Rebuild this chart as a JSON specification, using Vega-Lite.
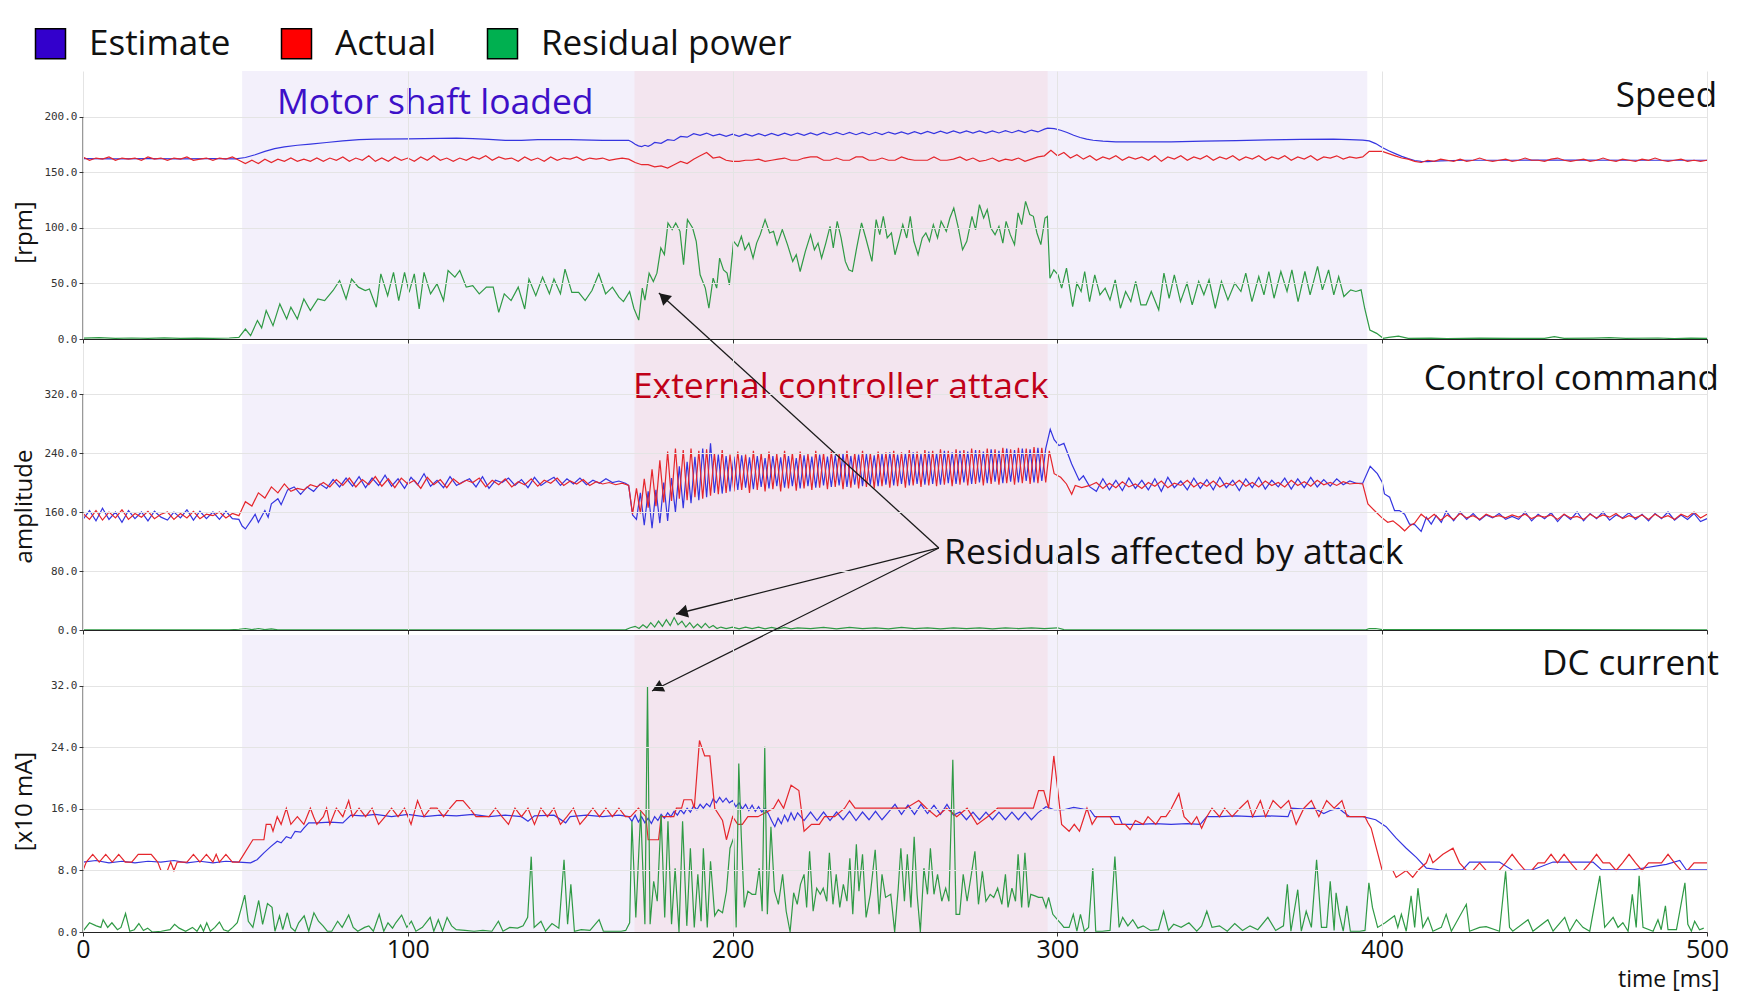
{
"$schema":"https://vega.github.io/schema/vega-lite/v6.json",
"background":"white",
"padding":{"left":12,"top":26,"right":10,"bottom":4},
"config":{"view":{"stroke":null},"font":"Open Sans"},
"bounds":"flush",
"spacing":5,
"datasets":{
"leg":[{"s":"Estimate","t":0,"v":0},{"s":"Actual","t":0,"v":0},{"s":"Residual power","t":0,"v":0}],
"p1e":[{"t":0,"v":162.5},{"t":10,"v":162.3},{"t":20,"v":162.5},{"t":30,"v":162.2},{"t":40,"v":162.4},{"t":47,"v":162.3},{"t":50,"v":163.5},{"t":53,"v":166},{"t":56,"v":169},{"t":59,"v":171.5},{"t":62,"v":173},{"t":66,"v":174.5},{"t":70,"v":175.5},{"t":75,"v":177},{"t":80,"v":178.5},{"t":85,"v":179.5},{"t":90,"v":180},{"t":100,"v":180.3},{"t":110,"v":180.8},{"t":115,"v":181},{"t":120,"v":180.5},{"t":125,"v":179.8},{"t":130,"v":179},{"t":135,"v":179},{"t":140,"v":179.5},{"t":150,"v":179.6},{"t":160,"v":179},{"t":168,"v":179},{"t":169,"v":177.5},{"t":170,"v":175.5},{"t":171,"v":174},{"t":172,"v":173.3},{"t":173,"v":174.5},{"t":174,"v":173.5},{"t":175,"v":175},{"t":176,"v":177},{"t":178,"v":176.3},{"t":180,"v":179.5},{"t":182,"v":178.8},{"t":184,"v":182.5},{"t":186,"v":181.8},{"t":188,"v":185},{"t":190,"v":183.5},{"t":192,"v":185.5},{"t":194,"v":183},{"t":196,"v":184.5},{"t":198,"v":182.5},{"t":200,"v":184.5},{"t":202,"v":182.5},{"t":204,"v":184.8},{"t":206,"v":182.8},{"t":208,"v":185},{"t":210,"v":183},{"t":212,"v":185.2},{"t":214,"v":183.2},{"t":216,"v":185.4},{"t":218,"v":183.4},{"t":220,"v":185.5},{"t":222,"v":183.5},{"t":224,"v":185.7},{"t":226,"v":183.7},{"t":228,"v":186},{"t":230,"v":184},{"t":232,"v":186},{"t":234,"v":184},{"t":236,"v":186},{"t":238,"v":184},{"t":240,"v":186},{"t":242,"v":184},{"t":244,"v":186.2},{"t":246,"v":184.2},{"t":248,"v":186.4},{"t":250,"v":184.5},{"t":252,"v":186.6},{"t":254,"v":184.6},{"t":256,"v":186.8},{"t":258,"v":184.8},{"t":260,"v":187},{"t":262,"v":185},{"t":264,"v":187.2},{"t":266,"v":185.2},{"t":268,"v":187.4},{"t":270,"v":185.5},{"t":272,"v":187.5},{"t":274,"v":185.5},{"t":276,"v":187.5},{"t":278,"v":185.5},{"t":280,"v":187.5},{"t":282,"v":185.6},{"t":284,"v":187.7},{"t":286,"v":185.8},{"t":288,"v":187.9},{"t":290,"v":186},{"t":292,"v":188.2},{"t":294,"v":186.5},{"t":296,"v":189},{"t":297,"v":190},{"t":299,"v":189.5},{"t":301,"v":188},{"t":303,"v":186},{"t":305,"v":183.5},{"t":307,"v":181.5},{"t":309,"v":180},{"t":311,"v":179},{"t":314,"v":178.2},{"t":318,"v":177.6},{"t":325,"v":177.5},{"t":335,"v":177.5},{"t":345,"v":178.2},{"t":355,"v":178.6},{"t":365,"v":179.3},{"t":375,"v":179.8},{"t":385,"v":180},{"t":390,"v":179.6},{"t":394,"v":179.2},{"t":396,"v":178.5},{"t":398,"v":176},{"t":400,"v":172.5},{"t":402,"v":169.5},{"t":404,"v":167},{"t":406,"v":164.5},{"t":408,"v":162.5},{"t":410,"v":160.8},{"t":412,"v":160},{"t":414,"v":159.8},{"t":418,"v":160.5},{"t":425,"v":161},{"t":440,"v":161},{"t":460,"v":161.2},{"t":480,"v":161},{"t":500,"v":161}],
"p1a":[{"t":0,"v":164},{"t":2,"v":161},{"t":4,"v":163},{"t":6,"v":162},{"t":8,"v":164},{"t":10,"v":161},{"t":12,"v":163},{"t":14,"v":162},{"t":16,"v":163},{"t":18,"v":161},{"t":20,"v":164},{"t":22,"v":162},{"t":24,"v":163},{"t":26,"v":161},{"t":28,"v":163},{"t":30,"v":162},{"t":32,"v":164},{"t":34,"v":161},{"t":36,"v":162},{"t":38,"v":163},{"t":40,"v":161},{"t":42,"v":163},{"t":44,"v":162},{"t":46,"v":164},{"t":48,"v":161},{"t":50,"v":158},{"t":52,"v":161},{"t":54,"v":158},{"t":56,"v":162},{"t":58,"v":159},{"t":60,"v":162},{"t":62,"v":160},{"t":64,"v":163},{"t":66,"v":160},{"t":68,"v":162},{"t":70,"v":160},{"t":72,"v":163},{"t":74,"v":160},{"t":76,"v":163},{"t":78,"v":161},{"t":80,"v":164},{"t":82,"v":160},{"t":84,"v":163},{"t":86,"v":161},{"t":88,"v":165},{"t":90,"v":160},{"t":92,"v":163},{"t":94,"v":160},{"t":96,"v":164},{"t":98,"v":161},{"t":100,"v":163},{"t":102,"v":160},{"t":104,"v":164},{"t":106,"v":161},{"t":108,"v":165},{"t":110,"v":161},{"t":112,"v":163},{"t":114,"v":160},{"t":116,"v":163},{"t":118,"v":161},{"t":120,"v":164},{"t":122,"v":162},{"t":124,"v":165},{"t":126,"v":161},{"t":128,"v":164},{"t":130,"v":162},{"t":132,"v":163},{"t":134,"v":160},{"t":136,"v":164},{"t":138,"v":161},{"t":140,"v":163},{"t":142,"v":160},{"t":144,"v":164},{"t":146,"v":161},{"t":148,"v":163},{"t":150,"v":162},{"t":152,"v":164},{"t":154,"v":161},{"t":156,"v":163},{"t":158,"v":162},{"t":160,"v":163},{"t":162,"v":161},{"t":164,"v":162},{"t":166,"v":163},{"t":168,"v":162},{"t":170,"v":159},{"t":172,"v":157},{"t":174,"v":157},{"t":176,"v":155},{"t":178,"v":156},{"t":180,"v":154},{"t":182,"v":157},{"t":184,"v":160},{"t":186,"v":158},{"t":188,"v":162},{"t":190,"v":165},{"t":192,"v":168},{"t":194,"v":163},{"t":196,"v":164},{"t":198,"v":161},{"t":200,"v":160},{"t":202,"v":160},{"t":204,"v":161},{"t":206,"v":161},{"t":208,"v":162},{"t":210,"v":160},{"t":212,"v":161},{"t":214,"v":162},{"t":216,"v":163},{"t":218,"v":161},{"t":220,"v":161},{"t":222,"v":163},{"t":224,"v":164},{"t":226,"v":164},{"t":228,"v":161},{"t":230,"v":161},{"t":232,"v":163},{"t":234,"v":161},{"t":236,"v":161},{"t":238,"v":164},{"t":240,"v":164},{"t":242,"v":161},{"t":244,"v":161},{"t":246,"v":163},{"t":248,"v":161},{"t":250,"v":161},{"t":252,"v":164},{"t":254,"v":162},{"t":256,"v":161},{"t":258,"v":161},{"t":260,"v":161},{"t":262,"v":164},{"t":264,"v":161},{"t":266,"v":161},{"t":268,"v":162},{"t":270,"v":164},{"t":272,"v":161},{"t":274,"v":163},{"t":276,"v":160},{"t":278,"v":161},{"t":280,"v":163},{"t":282,"v":160},{"t":284,"v":162},{"t":286,"v":161},{"t":288,"v":163},{"t":290,"v":160},{"t":292,"v":162},{"t":294,"v":164},{"t":296,"v":165},{"t":298,"v":170},{"t":300,"v":165},{"t":302,"v":168},{"t":304,"v":163},{"t":306,"v":166},{"t":308,"v":162},{"t":310,"v":165},{"t":312,"v":161},{"t":314,"v":164},{"t":316,"v":162},{"t":318,"v":165},{"t":320,"v":161},{"t":322,"v":164},{"t":324,"v":162},{"t":326,"v":164},{"t":328,"v":161},{"t":330,"v":165},{"t":332,"v":160},{"t":334,"v":164},{"t":336,"v":162},{"t":338,"v":165},{"t":340,"v":161},{"t":342,"v":164},{"t":344,"v":162},{"t":346,"v":165},{"t":348,"v":161},{"t":350,"v":164},{"t":352,"v":162},{"t":354,"v":165},{"t":356,"v":161},{"t":358,"v":164},{"t":360,"v":162},{"t":362,"v":165},{"t":364,"v":161},{"t":366,"v":164},{"t":368,"v":162},{"t":370,"v":165},{"t":372,"v":161},{"t":374,"v":164},{"t":376,"v":162},{"t":378,"v":165},{"t":380,"v":161},{"t":382,"v":164},{"t":384,"v":163},{"t":386,"v":165},{"t":388,"v":162},{"t":390,"v":164},{"t":392,"v":163},{"t":394,"v":164},{"t":396,"v":169},{"t":398,"v":169},{"t":400,"v":169},{"t":402,"v":167},{"t":404,"v":165},{"t":406,"v":163},{"t":408,"v":162},{"t":410,"v":160},{"t":412,"v":159},{"t":414,"v":161},{"t":416,"v":160},{"t":418,"v":162},{"t":420,"v":161},{"t":422,"v":160},{"t":424,"v":162},{"t":426,"v":160},{"t":428,"v":161},{"t":430,"v":163},{"t":432,"v":161},{"t":434,"v":160},{"t":436,"v":161},{"t":438,"v":162},{"t":440,"v":160},{"t":442,"v":161},{"t":444,"v":163},{"t":446,"v":161},{"t":448,"v":161},{"t":450,"v":160},{"t":452,"v":162},{"t":454,"v":163},{"t":456,"v":161},{"t":458,"v":160},{"t":460,"v":161},{"t":462,"v":162},{"t":464,"v":160},{"t":466,"v":161},{"t":468,"v":163},{"t":470,"v":161},{"t":472,"v":160},{"t":474,"v":162},{"t":476,"v":161},{"t":478,"v":160},{"t":480,"v":162},{"t":482,"v":161},{"t":484,"v":163},{"t":486,"v":161},{"t":488,"v":160},{"t":490,"v":161},{"t":492,"v":162},{"t":494,"v":160},{"t":496,"v":161},{"t":498,"v":160},{"t":500,"v":161}],
"p1r":[{"t":0,"v":0.8},{"t":5,"v":1.2},{"t":10,"v":0.5},{"t":15,"v":0.9},{"t":20,"v":0.6},{"t":25,"v":1},{"t":30,"v":0.5},{"t":35,"v":0.8},{"t":40,"v":0.6},{"t":45,"v":0.9},{"t":48,"v":1.5},{"t":50,"v":9},{"t":51.6,"v":3},{"t":53.7,"v":16.6},{"t":55,"v":10},{"t":56.4,"v":25.6},{"t":58.5,"v":12},{"t":60.6,"v":31.6},{"t":62.7,"v":18},{"t":64,"v":28.6},{"t":66,"v":18},{"t":68,"v":36},{"t":70,"v":25.6},{"t":72.3,"v":36},{"t":74.4,"v":34.6},{"t":77,"v":43.7},{"t":79,"v":52.7},{"t":81,"v":36},{"t":82.7,"v":54},{"t":84.8,"v":46.7},{"t":86.9,"v":43.7},{"t":88.2,"v":45},{"t":90.3,"v":28.6},{"t":91.7,"v":58.7},{"t":93.8,"v":39},{"t":95.6,"v":60},{"t":97.2,"v":34.6},{"t":99,"v":60},{"t":100.4,"v":42},{"t":102,"v":58.7},{"t":103.5,"v":27},{"t":105,"v":60},{"t":107,"v":40.7},{"t":109,"v":49.7},{"t":111,"v":34.6},{"t":112.4,"v":61.7},{"t":114.5,"v":55.7},{"t":116,"v":61.7},{"t":118,"v":46.7},{"t":120,"v":48},{"t":122,"v":40.7},{"t":124.2,"v":46.7},{"t":126.3,"v":46.7},{"t":128,"v":24},{"t":129.7,"v":40.7},{"t":131.8,"v":34.6},{"t":134,"v":46.7},{"t":136,"v":27},{"t":137.3,"v":54},{"t":139.4,"v":39},{"t":141.5,"v":55.7},{"t":143.6,"v":40.7},{"t":145,"v":54},{"t":147,"v":40.7},{"t":148.4,"v":63},{"t":150.5,"v":42},{"t":152.6,"v":42},{"t":154.6,"v":34.6},{"t":156.7,"v":43.7},{"t":158.8,"v":58.7},{"t":160.9,"v":40.7},{"t":163,"v":46.7},{"t":165,"v":37.7},{"t":166.4,"v":33.7},{"t":168.3,"v":42.8},{"t":169.6,"v":27.7},{"t":171.1,"v":17},{"t":172.2,"v":45.8},{"t":173,"v":35},{"t":174.3,"v":59.3},{"t":175.6,"v":51.8},{"t":176.7,"v":59.3},{"t":177.9,"v":82},{"t":179,"v":76},{"t":180.1,"v":104.5},{"t":181.4,"v":98.5},{"t":182.5,"v":104.5},{"t":183.8,"v":97},{"t":184.9,"v":66.9},{"t":186.1,"v":107.5},{"t":187.7,"v":100},{"t":188.8,"v":88},{"t":190,"v":57.8},{"t":191.6,"v":45.8},{"t":192.7,"v":27.7},{"t":194,"v":54.8},{"t":195.1,"v":45.8},{"t":196,"v":72.9},{"t":197.2,"v":62.3},{"t":198.3,"v":59.3},{"t":199,"v":48.8},{"t":200.3,"v":88},{"t":201.6,"v":83.4},{"t":202.7,"v":92.5},{"t":203.8,"v":80.4},{"t":205,"v":86.4},{"t":206.3,"v":72.9},{"t":207.4,"v":86.4},{"t":208.5,"v":94},{"t":210,"v":107.5},{"t":211.4,"v":95.5},{"t":212.6,"v":97},{"t":213.7,"v":85},{"t":215.3,"v":98.5},{"t":216.9,"v":85},{"t":218.5,"v":69.9},{"t":219.6,"v":75.9},{"t":220.8,"v":60.8},{"t":222.4,"v":78.9},{"t":224,"v":94},{"t":225.2,"v":80.4},{"t":226.3,"v":86.4},{"t":227.4,"v":72.9},{"t":228.7,"v":86.4},{"t":230,"v":101.5},{"t":231,"v":82},{"t":232.2,"v":106},{"t":233.4,"v":91},{"t":234.7,"v":69.9},{"t":235.8,"v":62.3},{"t":236.9,"v":60.8},{"t":238.2,"v":82},{"t":239.7,"v":104.5},{"t":241,"v":91},{"t":242.9,"v":69.9},{"t":244.2,"v":107.5},{"t":245.3,"v":94},{"t":246.4,"v":110.5},{"t":247.6,"v":91},{"t":248.9,"v":95.5},{"t":250,"v":75.9},{"t":251.1,"v":88},{"t":252.4,"v":103},{"t":253.6,"v":91},{"t":254.7,"v":110.5},{"t":255.8,"v":88},{"t":257.1,"v":75.9},{"t":258.4,"v":91},{"t":259.5,"v":95.5},{"t":260.6,"v":88},{"t":261.8,"v":103},{"t":263.1,"v":91},{"t":264.2,"v":106},{"t":265.8,"v":97},{"t":266.9,"v":109},{"t":268.1,"v":118},{"t":269.4,"v":101.5},{"t":270.8,"v":80.4},{"t":272.1,"v":88},{"t":273.7,"v":110.5},{"t":274.8,"v":98.5},{"t":276,"v":121},{"t":277.3,"v":109},{"t":278.4,"v":116.6},{"t":279.5,"v":100},{"t":280.8,"v":94},{"t":282,"v":101.5},{"t":283.2,"v":86.4},{"t":284.2,"v":106},{"t":285.5,"v":94},{"t":286.8,"v":85},{"t":287.9,"v":113.6},{"t":289,"v":103},{"t":290.2,"v":124},{"t":291.5,"v":112},{"t":292.6,"v":110.5},{"t":293.7,"v":95.5},{"t":294.9,"v":85},{"t":296.2,"v":109},{"t":296.9,"v":110.5},{"t":297.7,"v":54.8},{"t":298.9,"v":62.3},{"t":300.2,"v":57.8},{"t":301.3,"v":45.8},{"t":302.8,"v":63.9},{"t":304.7,"v":29.2},{"t":306,"v":50.3},{"t":307.3,"v":42.8},{"t":308.4,"v":60.8},{"t":309.9,"v":33.7},{"t":311.5,"v":57.8},{"t":313.1,"v":39.8},{"t":314.7,"v":45.8},{"t":316.2,"v":35.2},{"t":317.8,"v":53.3},{"t":319.4,"v":27.7},{"t":321,"v":42.8},{"t":322.6,"v":33.7},{"t":324.1,"v":51.8},{"t":325.7,"v":30.7},{"t":327.3,"v":30.7},{"t":328.9,"v":42.8},{"t":331.2,"v":26.2},{"t":332.8,"v":59.3},{"t":334.4,"v":36.7},{"t":336,"v":57.8},{"t":337.9,"v":33.7},{"t":339.9,"v":50.3},{"t":341.5,"v":30.7},{"t":343.5,"v":51.8},{"t":345.1,"v":39.8},{"t":346.7,"v":53.3},{"t":348.6,"v":27.7},{"t":350.5,"v":51.8},{"t":352.5,"v":35.2},{"t":354.6,"v":50.3},{"t":356.5,"v":42.8},{"t":358,"v":59.3},{"t":359.9,"v":33.7},{"t":362,"v":56.3},{"t":363.6,"v":39.8},{"t":365.1,"v":60.8},{"t":366.7,"v":36.7},{"t":368.8,"v":60.8},{"t":370.7,"v":42.8},{"t":372.2,"v":62.3},{"t":374.1,"v":33.7},{"t":376.2,"v":60.8},{"t":377.8,"v":39.8},{"t":380.1,"v":65.4},{"t":381.6,"v":44.3},{"t":383.5,"v":62.3},{"t":385.1,"v":39.8},{"t":386.6,"v":56.3},{"t":388.2,"v":38.3},{"t":390.3,"v":44.3},{"t":391.9,"v":42.8},{"t":393.5,"v":44.3},{"t":394.6,"v":27.7},{"t":396.2,"v":8.1},{"t":398.3,"v":5.1},{"t":400.3,"v":0.6},{"t":402,"v":1.5},{"t":405,"v":2.5},{"t":408,"v":0.5},{"t":415,"v":0.8},{"t":420,"v":0.3},{"t":430,"v":0.8},{"t":440,"v":0.5},{"t":450,"v":0.6},{"t":453,"v":2.2},{"t":456,"v":0.5},{"t":465,"v":0.8},{"t":470,"v":1.2},{"t":475,"v":0.5},{"t":485,"v":0.9},{"t":490,"v":0.4},{"t":495,"v":0.8},{"t":500,"v":0.5}],
"p2a":[{"t":0,"v":158},{"t":2,"v":150},{"t":4,"v":162},{"t":6,"v":149},{"t":8,"v":160},{"t":10,"v":152},{"t":12,"v":163},{"t":14,"v":150},{"t":16,"v":158},{"t":18,"v":153},{"t":20,"v":161},{"t":22,"v":151},{"t":24,"v":157},{"t":26,"v":160},{"t":28,"v":150},{"t":30,"v":158},{"t":32,"v":152},{"t":34,"v":161},{"t":36,"v":151},{"t":38,"v":157},{"t":40,"v":155},{"t":42,"v":160},{"t":44,"v":152},{"t":46,"v":158},{"t":48,"v":155},{"t":50,"v":174},{"t":52,"v":168},{"t":54,"v":186},{"t":56,"v":179},{"t":58,"v":194},{"t":60,"v":186},{"t":62,"v":198},{"t":64,"v":188},{"t":66,"v":192},{"t":68,"v":190},{"t":70,"v":197},{"t":72,"v":194},{"t":74,"v":200},{"t":76,"v":194},{"t":78,"v":204},{"t":80,"v":196},{"t":82,"v":206},{"t":84,"v":194},{"t":86,"v":204},{"t":88,"v":197},{"t":90,"v":208},{"t":92,"v":195},{"t":94,"v":205},{"t":96,"v":193},{"t":98,"v":206},{"t":100,"v":198},{"t":102,"v":203},{"t":104,"v":192},{"t":106,"v":207},{"t":108,"v":197},{"t":110,"v":204},{"t":112,"v":193},{"t":114,"v":205},{"t":116,"v":198},{"t":118,"v":203},{"t":120,"v":200},{"t":122,"v":206},{"t":124,"v":194},{"t":126,"v":203},{"t":128,"v":197},{"t":130,"v":205},{"t":132,"v":194},{"t":134,"v":201},{"t":136,"v":197},{"t":138,"v":205},{"t":140,"v":195},{"t":142,"v":203},{"t":144,"v":199},{"t":146,"v":206},{"t":148,"v":196},{"t":150,"v":202},{"t":152,"v":198},{"t":154,"v":204},{"t":156,"v":196},{"t":158,"v":201},{"t":160,"v":198},{"t":162,"v":200},{"t":164,"v":197},{"t":166,"v":199},{"t":168,"v":196},{"t":169.2,"v":157},{"t":170.4,"v":192},{"t":171.6,"v":158},{"t":172.8,"v":205},{"t":174,"v":166},{"t":175.2,"v":218},{"t":176.4,"v":168},{"t":177.6,"v":230},{"t":178.8,"v":173},{"t":180,"v":242},{"t":181.2,"v":175},{"t":182.4,"v":246},{"t":183.6,"v":178},{"t":184.8,"v":244},{"t":186,"v":176},{"t":187.2,"v":246},{"t":188.4,"v":180},{"t":189.6,"v":243},{"t":190.8,"v":178},{"t":192,"v":245},{"t":193.2,"v":182},{"t":194.4,"v":240},{"t":195.6,"v":184},{"t":196.8,"v":244},{"t":198,"v":186},{"t":199.2,"v":238},{"t":200.4,"v":188},{"t":201.6,"v":242},{"t":202.8,"v":190},{"t":204,"v":238},{"t":205.2,"v":186},{"t":206.4,"v":243},{"t":207.6,"v":190},{"t":208.8,"v":240},{"t":210,"v":188},{"t":211.2,"v":242},{"t":212.4,"v":191},{"t":213.6,"v":239},{"t":214.8,"v":188},{"t":216,"v":243},{"t":217.2,"v":192},{"t":218.4,"v":240},{"t":219.6,"v":189},{"t":220.8,"v":242},{"t":222,"v":192},{"t":223.2,"v":239},{"t":224.4,"v":190},{"t":225.6,"v":243},{"t":226.8,"v":193},{"t":228,"v":240},{"t":229.2,"v":191},{"t":230.4,"v":242},{"t":231.6,"v":194},{"t":232.8,"v":239},{"t":234,"v":191},{"t":235.2,"v":243},{"t":236.4,"v":193},{"t":237.6,"v":240},{"t":238.8,"v":192},{"t":240,"v":243},{"t":241.2,"v":194},{"t":242.4,"v":240},{"t":243.6,"v":192},{"t":244.8,"v":242},{"t":246,"v":195},{"t":247.2,"v":241},{"t":248.4,"v":193},{"t":249.6,"v":243},{"t":250.8,"v":195},{"t":252,"v":241},{"t":253.2,"v":193},{"t":254.4,"v":244},{"t":255.6,"v":196},{"t":256.8,"v":242},{"t":258,"v":194},{"t":259.2,"v":244},{"t":260.4,"v":196},{"t":261.6,"v":243},{"t":262.8,"v":195},{"t":264,"v":245},{"t":265.2,"v":197},{"t":266.4,"v":243},{"t":267.6,"v":195},{"t":268.8,"v":245},{"t":270,"v":197},{"t":271.2,"v":244},{"t":272.4,"v":196},{"t":273.6,"v":246},{"t":274.8,"v":198},{"t":276,"v":244},{"t":277.2,"v":196},{"t":278.4,"v":246},{"t":279.6,"v":198},{"t":280.8,"v":245},{"t":282,"v":197},{"t":283.2,"v":247},{"t":284.4,"v":199},{"t":285.6,"v":245},{"t":286.8,"v":197},{"t":288,"v":247},{"t":289.2,"v":199},{"t":290.4,"v":246},{"t":291.6,"v":198},{"t":292.8,"v":248},{"t":294,"v":199},{"t":295.2,"v":247},{"t":296.4,"v":200},{"t":297.5,"v":243},{"t":299,"v":212},{"t":301,"v":207},{"t":302.8,"v":198},{"t":304.4,"v":184},{"t":305.5,"v":196},{"t":307.5,"v":193},{"t":310,"v":196},{"t":312,"v":200},{"t":314,"v":192},{"t":316,"v":199},{"t":318,"v":193},{"t":320,"v":201},{"t":322,"v":194},{"t":324,"v":198},{"t":326,"v":192},{"t":328,"v":200},{"t":330,"v":195},{"t":332,"v":202},{"t":334,"v":193},{"t":336,"v":199},{"t":338,"v":196},{"t":340,"v":203},{"t":342,"v":194},{"t":344,"v":200},{"t":346,"v":195},{"t":348,"v":202},{"t":350,"v":194},{"t":352,"v":199},{"t":354,"v":196},{"t":356,"v":203},{"t":358,"v":195},{"t":360,"v":200},{"t":362,"v":194},{"t":364,"v":202},{"t":366,"v":196},{"t":368,"v":200},{"t":370,"v":194},{"t":372,"v":203},{"t":374,"v":196},{"t":376,"v":201},{"t":378,"v":195},{"t":380,"v":203},{"t":382,"v":197},{"t":384,"v":200},{"t":386,"v":196},{"t":388,"v":201},{"t":390,"v":198},{"t":392,"v":199},{"t":394,"v":198},{"t":395.6,"v":171},{"t":397.6,"v":162},{"t":399.7,"v":153},{"t":401.7,"v":146},{"t":403.3,"v":148},{"t":405.3,"v":141},{"t":406.9,"v":134.5},{"t":408.4,"v":141},{"t":410,"v":145},{"t":412,"v":157},{"t":414,"v":150},{"t":416,"v":157},{"t":418,"v":149},{"t":420,"v":156},{"t":422,"v":150},{"t":424,"v":158},{"t":426,"v":152},{"t":428,"v":155},{"t":430,"v":150},{"t":432,"v":157},{"t":434,"v":153},{"t":436,"v":155},{"t":438,"v":152},{"t":440,"v":156},{"t":442,"v":153},{"t":444,"v":157},{"t":446,"v":151},{"t":448,"v":155},{"t":450,"v":153},{"t":452,"v":156},{"t":454,"v":150},{"t":456,"v":157},{"t":458,"v":152},{"t":460,"v":154},{"t":462,"v":150},{"t":464,"v":157},{"t":466,"v":152},{"t":468,"v":156},{"t":470,"v":153},{"t":472,"v":158},{"t":474,"v":151},{"t":476,"v":155},{"t":478,"v":152},{"t":480,"v":156},{"t":482,"v":150},{"t":484,"v":157},{"t":486,"v":152},{"t":488,"v":155},{"t":490,"v":150},{"t":492,"v":157},{"t":494,"v":153},{"t":496,"v":160},{"t":498,"v":152},{"t":500,"v":157}],
"p2e":[{"t":0,"v":150},{"t":2,"v":162},{"t":4,"v":148},{"t":6,"v":165},{"t":8,"v":150},{"t":10,"v":160},{"t":12,"v":146},{"t":14,"v":162},{"t":16,"v":151},{"t":18,"v":160},{"t":20,"v":148},{"t":22,"v":161},{"t":24,"v":153},{"t":26,"v":149},{"t":28,"v":160},{"t":30,"v":152},{"t":32,"v":163},{"t":34,"v":149},{"t":36,"v":161},{"t":38,"v":151},{"t":40,"v":160},{"t":42,"v":150},{"t":44,"v":161},{"t":46,"v":151},{"t":48,"v":150},{"t":49,"v":141},{"t":50,"v":137},{"t":52,"v":150},{"t":53,"v":157},{"t":54,"v":146},{"t":56,"v":162},{"t":57,"v":153},{"t":58,"v":171},{"t":60,"v":178},{"t":61,"v":170},{"t":63,"v":190},{"t":65,"v":194},{"t":67,"v":184},{"t":69,"v":194},{"t":71,"v":188},{"t":73,"v":198},{"t":75,"v":192},{"t":77,"v":204},{"t":79,"v":194},{"t":81,"v":206},{"t":83,"v":195},{"t":85,"v":208},{"t":87,"v":193},{"t":89,"v":206},{"t":91,"v":196},{"t":93,"v":210},{"t":95,"v":195},{"t":97,"v":205},{"t":99,"v":192},{"t":101,"v":207},{"t":103,"v":197},{"t":105,"v":212},{"t":107,"v":195},{"t":109,"v":203},{"t":111,"v":193},{"t":113,"v":208},{"t":115,"v":196},{"t":117,"v":201},{"t":119,"v":205},{"t":121,"v":194},{"t":123,"v":208},{"t":125,"v":192},{"t":127,"v":203},{"t":129,"v":200},{"t":131,"v":206},{"t":133,"v":196},{"t":135,"v":204},{"t":137,"v":193},{"t":139,"v":207},{"t":141,"v":196},{"t":143,"v":202},{"t":145,"v":207},{"t":147,"v":196},{"t":149,"v":205},{"t":151,"v":198},{"t":153,"v":206},{"t":155,"v":197},{"t":157,"v":203},{"t":159,"v":199},{"t":161,"v":205},{"t":163,"v":200},{"t":165,"v":202},{"t":167,"v":199},{"t":168,"v":196},{"t":169.2,"v":156},{"t":170.4,"v":150},{"t":171.6,"v":186},{"t":172.8,"v":142},{"t":174,"v":188},{"t":175.2,"v":138},{"t":176.4,"v":190},{"t":177.6,"v":145},{"t":178.8,"v":200},{"t":180,"v":148},{"t":181.2,"v":206},{"t":182.4,"v":160},{"t":183.6,"v":222},{"t":184.8,"v":165},{"t":186,"v":228},{"t":187.2,"v":172},{"t":188.4,"v":235},{"t":189.6,"v":176},{"t":190.8,"v":246},{"t":192,"v":180},{"t":193.2,"v":253},{"t":194.4,"v":186},{"t":195.6,"v":238},{"t":196.8,"v":185},{"t":198,"v":236},{"t":199.2,"v":188},{"t":200.4,"v":235},{"t":201.6,"v":190},{"t":202.8,"v":237},{"t":204,"v":193},{"t":205.2,"v":234},{"t":206.4,"v":191},{"t":207.6,"v":236},{"t":208.8,"v":194},{"t":210,"v":233},{"t":211.2,"v":192},{"t":212.4,"v":236},{"t":213.6,"v":195},{"t":214.8,"v":234},{"t":216,"v":193},{"t":217.2,"v":236},{"t":218.4,"v":195},{"t":219.6,"v":233},{"t":220.8,"v":192},{"t":222,"v":237},{"t":223.2,"v":195},{"t":224.4,"v":235},{"t":225.6,"v":193},{"t":226.8,"v":238},{"t":228,"v":196},{"t":229.2,"v":235},{"t":230.4,"v":194},{"t":231.6,"v":237},{"t":232.8,"v":196},{"t":234,"v":239},{"t":235.2,"v":194},{"t":236.4,"v":236},{"t":237.6,"v":197},{"t":238.8,"v":238},{"t":240,"v":195},{"t":241.2,"v":239},{"t":242.4,"v":197},{"t":243.6,"v":237},{"t":244.8,"v":195},{"t":246,"v":239},{"t":247.2,"v":197},{"t":248.4,"v":241},{"t":249.6,"v":196},{"t":250.8,"v":238},{"t":252,"v":198},{"t":253.2,"v":240},{"t":254.4,"v":196},{"t":255.6,"v":241},{"t":256.8,"v":198},{"t":258,"v":239},{"t":259.2,"v":197},{"t":260.4,"v":242},{"t":261.6,"v":198},{"t":262.8,"v":240},{"t":264,"v":197},{"t":265.2,"v":243},{"t":266.4,"v":199},{"t":267.6,"v":241},{"t":268.8,"v":198},{"t":270,"v":243},{"t":271.2,"v":200},{"t":272.4,"v":242},{"t":273.6,"v":198},{"t":274.8,"v":244},{"t":276,"v":200},{"t":277.2,"v":242},{"t":278.4,"v":199},{"t":279.6,"v":245},{"t":280.8,"v":201},{"t":282,"v":243},{"t":283.2,"v":199},{"t":284.4,"v":246},{"t":285.6,"v":201},{"t":286.8,"v":244},{"t":288,"v":200},{"t":289.2,"v":246},{"t":290.4,"v":202},{"t":291.6,"v":245},{"t":292.8,"v":200},{"t":294,"v":247},{"t":295.2,"v":202},{"t":296.4,"v":246},{"t":297.8,"v":272},{"t":299,"v":258},{"t":300.5,"v":250},{"t":302,"v":253},{"t":304.4,"v":225},{"t":306.7,"v":203},{"t":308,"v":209},{"t":310,"v":194},{"t":312,"v":188},{"t":314,"v":205},{"t":316,"v":190},{"t":318,"v":203},{"t":320,"v":189},{"t":322,"v":206},{"t":324,"v":192},{"t":326,"v":203},{"t":328,"v":190},{"t":330,"v":205},{"t":332,"v":188},{"t":334,"v":207},{"t":336,"v":193},{"t":338,"v":202},{"t":340,"v":190},{"t":342,"v":206},{"t":344,"v":192},{"t":346,"v":204},{"t":348,"v":190},{"t":350,"v":207},{"t":352,"v":193},{"t":354,"v":203},{"t":356,"v":189},{"t":358,"v":205},{"t":360,"v":193},{"t":362,"v":207},{"t":364,"v":191},{"t":366,"v":203},{"t":368,"v":194},{"t":370,"v":206},{"t":372,"v":191},{"t":374,"v":205},{"t":376,"v":193},{"t":378,"v":207},{"t":380,"v":194},{"t":382,"v":204},{"t":384,"v":195},{"t":386,"v":205},{"t":388,"v":197},{"t":390,"v":202},{"t":392,"v":199},{"t":394,"v":199},{"t":396.3,"v":222},{"t":398.5,"v":212},{"t":400,"v":200.5},{"t":400.7,"v":184.5},{"t":402.3,"v":180},{"t":403.8,"v":162},{"t":405.3,"v":162},{"t":406.9,"v":157},{"t":408.4,"v":143.6},{"t":410,"v":143},{"t":412,"v":133.6},{"t":413.6,"v":152.7},{"t":415.1,"v":143.6},{"t":416.6,"v":155},{"t":418.2,"v":146},{"t":419.7,"v":161},{"t":422,"v":148},{"t":424,"v":160},{"t":426,"v":150},{"t":428,"v":158},{"t":430,"v":149},{"t":432,"v":156},{"t":434,"v":152},{"t":436,"v":158},{"t":438,"v":150},{"t":440,"v":154},{"t":442,"v":150},{"t":444,"v":160},{"t":446,"v":148},{"t":448,"v":157},{"t":450,"v":151},{"t":452,"v":159},{"t":454,"v":147},{"t":456,"v":157},{"t":458,"v":150},{"t":460,"v":160},{"t":462,"v":148},{"t":464,"v":158},{"t":466,"v":151},{"t":468,"v":160},{"t":470,"v":149},{"t":472,"v":156},{"t":474,"v":152},{"t":476,"v":159},{"t":478,"v":150},{"t":480,"v":157},{"t":482,"v":148},{"t":484,"v":158},{"t":486,"v":151},{"t":488,"v":160},{"t":490,"v":149},{"t":492,"v":156},{"t":494,"v":150},{"t":496,"v":158},{"t":498,"v":147},{"t":500,"v":151}],
"p2r":[{"t":0,"v":0.3},{"t":45,"v":0.3},{"t":48,"v":1},{"t":50,"v":2},{"t":52,"v":0.5},{"t":54,"v":2},{"t":56,"v":0.5},{"t":58,"v":1.5},{"t":60,"v":0.3},{"t":100,"v":0.3},{"t":167,"v":0.3},{"t":168.5,"v":3},{"t":170,"v":5},{"t":171.2,"v":2},{"t":172.4,"v":7},{"t":173.6,"v":3},{"t":174.8,"v":10},{"t":176,"v":4},{"t":177.2,"v":12},{"t":178.4,"v":5},{"t":179.6,"v":14},{"t":180.8,"v":6},{"t":182,"v":17},{"t":183.2,"v":7},{"t":184.4,"v":12},{"t":185.6,"v":4},{"t":186.8,"v":10},{"t":188,"v":3},{"t":189.2,"v":8},{"t":190.4,"v":3},{"t":191.6,"v":9},{"t":192.8,"v":3},{"t":194,"v":6},{"t":195.2,"v":2},{"t":196.4,"v":4},{"t":198,"v":2},{"t":200,"v":4},{"t":202,"v":1.5},{"t":204,"v":4},{"t":206,"v":2},{"t":208,"v":4},{"t":210,"v":1.5},{"t":212,"v":3.5},{"t":214,"v":1.5},{"t":216,"v":3.5},{"t":218,"v":1.5},{"t":220,"v":3},{"t":224,"v":2},{"t":228,"v":3.5},{"t":232,"v":1.5},{"t":236,"v":3.5},{"t":240,"v":2},{"t":244,"v":3},{"t":248,"v":1.5},{"t":252,"v":3.5},{"t":256,"v":2},{"t":260,"v":3},{"t":264,"v":1.5},{"t":268,"v":3},{"t":272,"v":2},{"t":276,"v":3},{"t":280,"v":1.5},{"t":284,"v":3},{"t":288,"v":2},{"t":292,"v":3},{"t":296,"v":2},{"t":300,"v":3},{"t":302,"v":0.5},{"t":310,"v":0.3},{"t":395,"v":0.3},{"t":396,"v":2},{"t":398,"v":2},{"t":400,"v":0.5},{"t":500,"v":0.3}],
"p3e":[{"t":0,"v":9.1},{"t":4,"v":9.3},{"t":8,"v":9},{"t":12,"v":9.2},{"t":16,"v":9},{"t":20,"v":9.2},{"t":24,"v":9.1},{"t":28,"v":9.3},{"t":32,"v":9},{"t":36,"v":9.2},{"t":40,"v":9},{"t":44,"v":9.2},{"t":48,"v":9.1},{"t":51.6,"v":9},{"t":53.6,"v":9.4},{"t":55.7,"v":10.3},{"t":57.8,"v":11.1},{"t":59.8,"v":11.8},{"t":61,"v":11.6},{"t":62.6,"v":12.4},{"t":64,"v":12.2},{"t":65.3,"v":13.1},{"t":67,"v":13},{"t":68,"v":13.5},{"t":69.5,"v":14.2},{"t":72,"v":14.2},{"t":76,"v":14.3},{"t":80,"v":14.2},{"t":82.5,"v":15.2},{"t":86,"v":15.1},{"t":90,"v":15.3},{"t":95,"v":15},{"t":100,"v":15.3},{"t":105,"v":15},{"t":110,"v":15.2},{"t":115,"v":15.1},{"t":120,"v":15.3},{"t":125,"v":15},{"t":130,"v":15.2},{"t":135,"v":15},{"t":137,"v":14.4},{"t":139,"v":15.1},{"t":145,"v":15.2},{"t":148.6,"v":14.2},{"t":150,"v":15},{"t":155,"v":15.2},{"t":160,"v":15},{"t":165,"v":15.2},{"t":168,"v":15},{"t":169,"v":14.4},{"t":170,"v":15.2},{"t":171,"v":14.3},{"t":172,"v":15},{"t":173,"v":14.2},{"t":174,"v":14.8},{"t":175,"v":14.1},{"t":176,"v":15},{"t":177,"v":14.5},{"t":178,"v":15.3},{"t":179,"v":14.8},{"t":180,"v":15.5},{"t":181,"v":15},{"t":182,"v":15.7},{"t":183,"v":15.2},{"t":184,"v":15.9},{"t":185,"v":15.4},{"t":186,"v":16.1},{"t":187,"v":15.6},{"t":188,"v":16.4},{"t":189,"v":15.9},{"t":190,"v":16.6},{"t":191,"v":16.1},{"t":192,"v":16.7},{"t":193,"v":16.3},{"t":194,"v":17.3},{"t":195,"v":16.8},{"t":196,"v":17.5},{"t":197,"v":16.9},{"t":198,"v":17.4},{"t":199,"v":16.8},{"t":200,"v":17.1},{"t":201,"v":16.3},{"t":202,"v":16.8},{"t":203,"v":16},{"t":204,"v":16.6},{"t":205,"v":15.8},{"t":206,"v":16.5},{"t":207,"v":15.7},{"t":208,"v":16.3},{"t":209,"v":15.6},{"t":210,"v":16.1},{"t":211,"v":15.4},{"t":212,"v":14.5},{"t":213,"v":13.7},{"t":214,"v":14.8},{"t":215,"v":14.1},{"t":216,"v":15.2},{"t":217,"v":14.4},{"t":218,"v":15.5},{"t":219,"v":14.6},{"t":220,"v":15.5},{"t":222,"v":14.5},{"t":224,"v":15.6},{"t":226,"v":14.5},{"t":228,"v":15.6},{"t":230,"v":14.5},{"t":232,"v":15.6},{"t":234,"v":14.6},{"t":236,"v":15.7},{"t":238,"v":14.5},{"t":240,"v":15.6},{"t":242,"v":14.6},{"t":244,"v":15.7},{"t":246,"v":14.6},{"t":248,"v":15.6},{"t":250,"v":16.6},{"t":252,"v":15.3},{"t":254,"v":16.5},{"t":256,"v":15.3},{"t":258,"v":16.6},{"t":260,"v":15.4},{"t":262,"v":16.5},{"t":264,"v":15.3},{"t":266,"v":16.6},{"t":268,"v":15.2},{"t":270,"v":15.6},{"t":272,"v":14.6},{"t":274,"v":15.6},{"t":276,"v":14.6},{"t":278,"v":15.6},{"t":280,"v":14.6},{"t":282,"v":15.6},{"t":284,"v":14.6},{"t":286,"v":15.6},{"t":288,"v":14.6},{"t":290,"v":15.6},{"t":292,"v":14.6},{"t":294,"v":15.5},{"t":296.5,"v":16.3},{"t":299,"v":15.9},{"t":302,"v":15.9},{"t":305,"v":16.2},{"t":308,"v":16},{"t":310,"v":15.9},{"t":311.5,"v":15},{"t":316,"v":15},{"t":319,"v":15},{"t":320,"v":14},{"t":325,"v":14},{"t":330,"v":14.1},{"t":335,"v":14},{"t":340,"v":14.1},{"t":344,"v":14},{"t":346,"v":15},{"t":350,"v":15},{"t":355,"v":15.1},{"t":360,"v":15},{"t":365,"v":15.1},{"t":371,"v":15},{"t":372,"v":16.1},{"t":376,"v":16},{"t":379,"v":16.1},{"t":382,"v":15.4},{"t":384,"v":15.8},{"t":386.6,"v":16.1},{"t":388,"v":15.6},{"t":390,"v":15},{"t":394,"v":15},{"t":398,"v":14.6},{"t":401.2,"v":13.7},{"t":404.3,"v":12.2},{"t":407.4,"v":10.9},{"t":410.5,"v":9.7},{"t":413.6,"v":8.3},{"t":417.7,"v":8.1},{"t":424.8,"v":8.1},{"t":426.9,"v":9.1},{"t":436.1,"v":9.1},{"t":440.2,"v":8},{"t":446.4,"v":8.1},{"t":452.6,"v":9.1},{"t":464.9,"v":9.1},{"t":467.5,"v":8.1},{"t":477.2,"v":8.1},{"t":487.5,"v":8.8},{"t":491.6,"v":9.3},{"t":493.6,"v":8.1},{"t":500,"v":8.1}],
"p3a":[{"t":0,"v":8},{"t":1,"v":9.1},{"t":3,"v":10.1},{"t":5,"v":9.1},{"t":7,"v":10.1},{"t":9,"v":9.1},{"t":11,"v":10.1},{"t":13,"v":9.1},{"t":15,"v":9.1},{"t":17,"v":10.1},{"t":19,"v":10.1},{"t":21,"v":10.1},{"t":23,"v":9.1},{"t":24,"v":8},{"t":26,"v":8},{"t":27,"v":9.1},{"t":28,"v":8},{"t":29,"v":9.1},{"t":32,"v":9.1},{"t":34,"v":10.1},{"t":36,"v":9.1},{"t":38,"v":10.1},{"t":40,"v":9.1},{"t":41,"v":10.1},{"t":42,"v":9.1},{"t":44,"v":10.1},{"t":46,"v":9.1},{"t":48,"v":9.1},{"t":49.5,"v":10.1},{"t":52.3,"v":12},{"t":55.7,"v":12},{"t":56.4,"v":14},{"t":57.8,"v":14},{"t":58.5,"v":13.1},{"t":59.8,"v":15},{"t":61,"v":14},{"t":62.6,"v":16.1},{"t":64,"v":14},{"t":66,"v":15},{"t":68,"v":14},{"t":70,"v":16.1},{"t":71,"v":15},{"t":72,"v":14},{"t":74,"v":15},{"t":75,"v":16.1},{"t":76,"v":14},{"t":78,"v":16.1},{"t":80,"v":15},{"t":81.8,"v":17.1},{"t":83,"v":15},{"t":85,"v":16.1},{"t":87,"v":15},{"t":89,"v":16.1},{"t":91,"v":14},{"t":93,"v":15},{"t":95,"v":16.1},{"t":97,"v":15},{"t":99,"v":16.1},{"t":101,"v":14},{"t":103,"v":17.1},{"t":105,"v":15},{"t":107,"v":16.1},{"t":109,"v":16.1},{"t":111,"v":15},{"t":113,"v":16.1},{"t":115,"v":17.1},{"t":117,"v":17.1},{"t":119,"v":16.1},{"t":121,"v":15},{"t":123,"v":15},{"t":125,"v":15},{"t":127,"v":16.1},{"t":129,"v":15},{"t":131,"v":14},{"t":133,"v":16.1},{"t":135,"v":15},{"t":137,"v":16.1},{"t":139,"v":14},{"t":141,"v":16.1},{"t":143,"v":15},{"t":145,"v":16.1},{"t":147,"v":14},{"t":149,"v":15},{"t":151,"v":16.1},{"t":153,"v":14},{"t":155,"v":15},{"t":157,"v":16.1},{"t":159,"v":15},{"t":161,"v":16.1},{"t":163,"v":15},{"t":165,"v":16.1},{"t":167,"v":15},{"t":168.6,"v":15},{"t":171,"v":16.1},{"t":173.3,"v":15},{"t":174,"v":12},{"t":177.2,"v":12},{"t":178,"v":15},{"t":181.9,"v":15},{"t":182.7,"v":16.1},{"t":184.3,"v":16.1},{"t":185,"v":17.2},{"t":187.4,"v":17.2},{"t":188.2,"v":16.1},{"t":189.8,"v":24.9},{"t":191.4,"v":22.9},{"t":193,"v":22.9},{"t":194.5,"v":16.1},{"t":196.9,"v":14.5},{"t":198.1,"v":12},{"t":200,"v":15},{"t":201.6,"v":14},{"t":203,"v":14},{"t":204.7,"v":15},{"t":207.8,"v":15},{"t":212.6,"v":16.1},{"t":214.1,"v":17.2},{"t":215.7,"v":16.1},{"t":218,"v":19.1},{"t":220.4,"v":18.4},{"t":222,"v":13.1},{"t":224.3,"v":14},{"t":226.7,"v":14},{"t":228.3,"v":15},{"t":231.4,"v":15},{"t":234.5,"v":16.1},{"t":236,"v":17.1},{"t":237.7,"v":16.1},{"t":240.8,"v":16.1},{"t":253.4,"v":16.1},{"t":257.3,"v":17.1},{"t":259.7,"v":16.1},{"t":262.8,"v":15},{"t":265.9,"v":16.1},{"t":269,"v":15},{"t":272.2,"v":16.1},{"t":275.3,"v":14},{"t":278.5,"v":15},{"t":281.6,"v":16.1},{"t":284.8,"v":16.1},{"t":292.6,"v":16.1},{"t":294.2,"v":18.4},{"t":295.8,"v":18.4},{"t":297.3,"v":16.1},{"t":298.9,"v":22.9},{"t":300.5,"v":17},{"t":301.3,"v":14},{"t":303.6,"v":13.1},{"t":305.2,"v":14},{"t":306.8,"v":13.1},{"t":309.1,"v":16.1},{"t":310.7,"v":14},{"t":312.2,"v":15},{"t":316.2,"v":15},{"t":317.7,"v":14},{"t":320.9,"v":14},{"t":322.4,"v":13.3},{"t":324,"v":14.5},{"t":326.4,"v":14},{"t":327.9,"v":15},{"t":330.3,"v":14},{"t":331.9,"v":15},{"t":333.4,"v":15},{"t":335,"v":16},{"t":337.4,"v":18},{"t":339,"v":15},{"t":341.3,"v":14},{"t":342.9,"v":15},{"t":344.4,"v":13.5},{"t":346,"v":15},{"t":347.6,"v":16.1},{"t":349.9,"v":15},{"t":351.5,"v":16.1},{"t":353.8,"v":15},{"t":356.2,"v":16.1},{"t":358.6,"v":17.1},{"t":360.1,"v":15},{"t":362.5,"v":17.1},{"t":364.1,"v":15},{"t":366.4,"v":17.1},{"t":368.8,"v":16.1},{"t":371.2,"v":17.1},{"t":373.5,"v":14},{"t":375.9,"v":16.1},{"t":378.2,"v":17.1},{"t":380.5,"v":15},{"t":382.9,"v":17.1},{"t":385.2,"v":16.1},{"t":387.6,"v":17.1},{"t":389.2,"v":15},{"t":391.5,"v":15},{"t":394.7,"v":15},{"t":395.6,"v":14.2},{"t":396.6,"v":13.5},{"t":398.2,"v":10.9},{"t":400,"v":8},{"t":403.3,"v":8},{"t":404.3,"v":7.1},{"t":407.4,"v":8},{"t":409.4,"v":7.1},{"t":411,"v":8},{"t":413.6,"v":9},{"t":414.6,"v":10.1},{"t":415.6,"v":9},{"t":418.7,"v":10.1},{"t":421.8,"v":10.9},{"t":423.8,"v":9},{"t":425.9,"v":8},{"t":428,"v":8},{"t":430,"v":9},{"t":432,"v":8},{"t":434,"v":8},{"t":436,"v":8},{"t":438,"v":9},{"t":440,"v":10.1},{"t":442,"v":9},{"t":444,"v":8},{"t":446,"v":8},{"t":448,"v":9},{"t":450,"v":9},{"t":452,"v":10.1},{"t":454,"v":9},{"t":456,"v":10.1},{"t":458,"v":9},{"t":460,"v":8},{"t":462,"v":8},{"t":464,"v":9},{"t":466,"v":10.1},{"t":468,"v":9},{"t":470,"v":9},{"t":472,"v":8},{"t":474,"v":9},{"t":476,"v":10.1},{"t":478,"v":9},{"t":480,"v":8},{"t":482,"v":9},{"t":484,"v":9},{"t":486,"v":9},{"t":488,"v":10.1},{"t":490,"v":9},{"t":492,"v":8},{"t":494,"v":8},{"t":496,"v":9},{"t":498,"v":9},{"t":500,"v":9}],
"p3r":[{"t":0,"v":0.1},{"t":2,"v":1.2},{"t":4.1,"v":0.8},{"t":5.5,"v":0.6},{"t":6.2,"v":1.6},{"t":7.6,"v":0.6},{"t":8.9,"v":1.2},{"t":10.6,"v":0.3},{"t":11.7,"v":0.6},{"t":13.1,"v":2.4},{"t":14.4,"v":0.1},{"t":15.8,"v":0.3},{"t":17.2,"v":1.1},{"t":18.6,"v":0.2},{"t":19.9,"v":0.5},{"t":21.3,"v":0},{"t":24.1,"v":0.1},{"t":26.8,"v":0.3},{"t":28.2,"v":1},{"t":29.6,"v":0.5},{"t":31.6,"v":0.1},{"t":33.7,"v":0.6},{"t":35.1,"v":0.1},{"t":36.2,"v":0.9},{"t":37.1,"v":0.1},{"t":38.1,"v":1.2},{"t":39.2,"v":0.1},{"t":40.6,"v":0.6},{"t":42,"v":1.3},{"t":43.3,"v":0.3},{"t":44.7,"v":0.1},{"t":46.1,"v":0.6},{"t":47.5,"v":1.2},{"t":48.8,"v":3.2},{"t":49.8,"v":4.8},{"t":50.9,"v":1.4},{"t":52.3,"v":0.6},{"t":54.1,"v":4.1},{"t":55.3,"v":1},{"t":56.8,"v":3.7},{"t":58.2,"v":3.2},{"t":59.1,"v":0.1},{"t":60.5,"v":2.1},{"t":61.5,"v":0.3},{"t":62.9,"v":2.5},{"t":64,"v":0.6},{"t":65.3,"v":0.1},{"t":66.4,"v":1.2},{"t":68.1,"v":2.1},{"t":69.5,"v":0.1},{"t":71.1,"v":2.5},{"t":72.5,"v":1.4},{"t":73.9,"v":0.8},{"t":75.2,"v":0.1},{"t":76.6,"v":0.1},{"t":78.4,"v":1.4},{"t":79.8,"v":0.6},{"t":81.8,"v":2.2},{"t":83.2,"v":0.6},{"t":84.6,"v":0.1},{"t":86.7,"v":0.6},{"t":88,"v":0.8},{"t":89.4,"v":0.1},{"t":91.2,"v":2.3},{"t":92.6,"v":0.1},{"t":93.9,"v":1.2},{"t":95.3,"v":0.5},{"t":96.3,"v":1.2},{"t":98.1,"v":2.2},{"t":99.7,"v":0.6},{"t":101.1,"v":1.4},{"t":102.5,"v":0.1},{"t":104.5,"v":0.6},{"t":106.9,"v":1.9},{"t":108,"v":0.1},{"t":109.4,"v":1.6},{"t":110.7,"v":0.1},{"t":112.1,"v":1.9},{"t":113.5,"v":0.8},{"t":114.9,"v":0.3},{"t":117.6,"v":0.2},{"t":120.4,"v":0.1},{"t":123.1,"v":0.2},{"t":125.9,"v":0.1},{"t":127.9,"v":1.4},{"t":129.3,"v":0.1},{"t":131.4,"v":0.6},{"t":133.8,"v":0.5},{"t":135.5,"v":0.8},{"t":136.9,"v":1.9},{"t":138,"v":9.8},{"t":138.9,"v":0.6},{"t":141,"v":1.4},{"t":142.4,"v":0.1},{"t":144.4,"v":1.1},{"t":146.5,"v":0.5},{"t":148.1,"v":9.4},{"t":149.2,"v":1},{"t":150.2,"v":6.2},{"t":151.3,"v":0.1},{"t":153.4,"v":0.3},{"t":156.1,"v":0.2},{"t":158.9,"v":1.6},{"t":160.2,"v":0.1},{"t":163,"v":0.1},{"t":165.7,"v":0.1},{"t":167.1,"v":0.2},{"t":168.3,"v":1.2},{"t":169,"v":14.4},{"t":170.2,"v":1.9},{"t":171.7,"v":15.7},{"t":173,"v":1},{"t":173.8,"v":31.9},{"t":174.6,"v":1},{"t":175.7,"v":6.6},{"t":176.8,"v":4},{"t":178,"v":15.2},{"t":179.1,"v":1.9},{"t":180.1,"v":14.4},{"t":181.2,"v":1},{"t":182.3,"v":8.3},{"t":183.5,"v":0},{"t":184.6,"v":14.4},{"t":185.9,"v":0.8},{"t":187,"v":10.9},{"t":188.2,"v":0.6},{"t":189.3,"v":7.5},{"t":190.3,"v":1.4},{"t":191,"v":10.9},{"t":192.2,"v":0.6},{"t":193.2,"v":9.2},{"t":194.5,"v":2.1},{"t":195.6,"v":2.9},{"t":196.9,"v":2.5},{"t":198.1,"v":5.3},{"t":199.2,"v":10.9},{"t":200.3,"v":12.2},{"t":201.1,"v":0.6},{"t":201.9,"v":21.9},{"t":202.7,"v":12.2},{"t":203.6,"v":3.2},{"t":204.7,"v":5.3},{"t":206,"v":4.9},{"t":207.1,"v":4.9},{"t":208.2,"v":8.3},{"t":209.1,"v":2.7},{"t":209.9,"v":24.1},{"t":210.7,"v":2.3},{"t":211.8,"v":13.7},{"t":212.9,"v":5.3},{"t":214.1,"v":3.6},{"t":215.4,"v":7.5},{"t":216.5,"v":2.7},{"t":217.7,"v":0},{"t":218.8,"v":5.1},{"t":219.9,"v":3.6},{"t":220.9,"v":6.2},{"t":222,"v":7.5},{"t":222.8,"v":3.2},{"t":223.7,"v":10.5},{"t":224.8,"v":2.7},{"t":225.9,"v":5.7},{"t":227,"v":4.9},{"t":227.9,"v":5.7},{"t":229,"v":4},{"t":229.8,"v":10.3},{"t":230.9,"v":3.6},{"t":231.9,"v":7.5},{"t":233,"v":3.2},{"t":234.1,"v":6.2},{"t":235.2,"v":4},{"t":236.1,"v":9.6},{"t":237,"v":2.3},{"t":238.1,"v":11.4},{"t":238.9,"v":5.3},{"t":240,"v":10.1},{"t":241.1,"v":1.9},{"t":242.4,"v":4.9},{"t":243.9,"v":10.7},{"t":245.1,"v":2.3},{"t":246,"v":7.5},{"t":247.1,"v":4.5},{"t":248.7,"v":4.9},{"t":249.9,"v":0},{"t":251,"v":5.7},{"t":251.8,"v":10.9},{"t":252.9,"v":4},{"t":253.8,"v":10.1},{"t":254.9,"v":3.2},{"t":255.9,"v":12.4},{"t":256.8,"v":4.9},{"t":257.8,"v":0},{"t":258.9,"v":8.3},{"t":260,"v":4.9},{"t":260.9,"v":10.9},{"t":262,"v":4.9},{"t":263.1,"v":7.5},{"t":264.4,"v":4},{"t":265.6,"v":5.7},{"t":266.6,"v":4},{"t":267.8,"v":22.4},{"t":268.8,"v":2.3},{"t":269.9,"v":2.3},{"t":271,"v":7.5},{"t":272.2,"v":4},{"t":273.5,"v":7.5},{"t":274.6,"v":10.5},{"t":275.7,"v":3.6},{"t":276.9,"v":7.9},{"t":278,"v":4},{"t":279.3,"v":4.9},{"t":280.4,"v":4.5},{"t":281.6,"v":5.7},{"t":282.9,"v":3.6},{"t":284,"v":7.5},{"t":284.8,"v":3.2},{"t":286,"v":5.7},{"t":287.1,"v":4},{"t":287.9,"v":10.1},{"t":289,"v":3.2},{"t":290,"v":10.3},{"t":291.1,"v":3.2},{"t":291.8,"v":4.9},{"t":293.1,"v":4.7},{"t":294.2,"v":4.5},{"t":295.4,"v":4.5},{"t":296.5,"v":3.2},{"t":297.3,"v":4.5},{"t":298.6,"v":2.3},{"t":300,"v":1.6},{"t":301.3,"v":1},{"t":302,"v":0.6},{"t":303.6,"v":0.6},{"t":304.9,"v":2.3},{"t":306,"v":0.1},{"t":307.1,"v":2.3},{"t":308.3,"v":0.1},{"t":309.6,"v":0.6},{"t":310.9,"v":8.3},{"t":311.8,"v":0.1},{"t":313.8,"v":0.1},{"t":316.2,"v":0.2},{"t":317.7,"v":9.8},{"t":319,"v":0.6},{"t":320.1,"v":1.9},{"t":321.7,"v":0.8},{"t":323.2,"v":1.6},{"t":324.8,"v":0.5},{"t":326.4,"v":0.8},{"t":328.7,"v":0.2},{"t":331.1,"v":0.3},{"t":332.7,"v":2.7},{"t":334.2,"v":0.2},{"t":335.8,"v":1},{"t":338.1,"v":0.6},{"t":340.5,"v":1.2},{"t":342.9,"v":0.1},{"t":344.4,"v":0.8},{"t":346,"v":2.7},{"t":347.6,"v":0.6},{"t":349.9,"v":0.8},{"t":352.3,"v":0.1},{"t":354.6,"v":1.1},{"t":357,"v":0.2},{"t":359.3,"v":0.8},{"t":361.7,"v":0.3},{"t":364.8,"v":1.9},{"t":367.2,"v":0.2},{"t":369.6,"v":0.8},{"t":370.8,"v":6.2},{"t":371.9,"v":0.1},{"t":374,"v":5.5},{"t":375.1,"v":0.1},{"t":376.6,"v":2.7},{"t":378.2,"v":0.6},{"t":379.8,"v":9.4},{"t":381.3,"v":0.6},{"t":382.9,"v":0.6},{"t":384,"v":6.6},{"t":385.2,"v":0.2},{"t":385.8,"v":5.1},{"t":386.8,"v":2.3},{"t":388,"v":0.1},{"t":389.1,"v":3.4},{"t":390.2,"v":0.1},{"t":391.5,"v":0.1},{"t":393.1,"v":0.1},{"t":394.7,"v":0.2},{"t":395.9,"v":6.4},{"t":397,"v":3.2},{"t":398.6,"v":0.6},{"t":400.9,"v":1.2},{"t":403.8,"v":2.1},{"t":404.8,"v":0.6},{"t":405.9,"v":2.3},{"t":407.4,"v":0.1},{"t":408.9,"v":4.7},{"t":410,"v":0.6},{"t":411,"v":5.7},{"t":412.5,"v":0.6},{"t":414.1,"v":1.9},{"t":415.6,"v":0.1},{"t":418.2,"v":0.6},{"t":419.7,"v":2.3},{"t":421.3,"v":0.1},{"t":425.9,"v":3.6},{"t":426.9,"v":0.1},{"t":430,"v":0.6},{"t":432,"v":0.7},{"t":436.1,"v":0.1},{"t":438,"v":7.9},{"t":439.2,"v":0.6},{"t":440.2,"v":0.1},{"t":444.9,"v":1.6},{"t":446.4,"v":0.1},{"t":451,"v":1.6},{"t":452.6,"v":0.1},{"t":456.2,"v":1.9},{"t":457.7,"v":0.1},{"t":459.8,"v":1.6},{"t":461.8,"v":0.6},{"t":463.9,"v":0.1},{"t":467,"v":7.3},{"t":468.5,"v":0.6},{"t":471.1,"v":1.9},{"t":472.6,"v":0.6},{"t":474.1,"v":1.2},{"t":475.7,"v":0.1},{"t":477,"v":4.9},{"t":478.2,"v":0.6},{"t":479.1,"v":7.3},{"t":480.3,"v":0.6},{"t":483.4,"v":0.1},{"t":484.9,"v":1.6},{"t":485.9,"v":0.3},{"t":487.2,"v":3.4},{"t":488,"v":0.3},{"t":490.6,"v":0.3},{"t":493.2,"v":6.4},{"t":494.1,"v":1},{"t":495.2,"v":0.1},{"t":496.2,"v":1.4},{"t":497.7,"v":0.3},{"t":499,"v":0.5}]
},
"vconcat":[
{
"width":1624,"height":268,
"encoding":{
"x":{"field":"t","type":"quantitative","scale":{"domain":[0,500],"nice":false,"zero":false},"axis":{"values":[0,100,200,300,400,500],"labels":false,"ticks":true,"tickSize":4,"tickColor":"#333","domain":true,"domainColor":"#222","domainWidth":1.2,"grid":true,"gridColor":"#e4e4e4","title":null,"zindex":1}},
"y":{"field":"v","type":"quantitative","scale":{"domain":[0,241.4],"nice":false,"zero":false},"axis":{"values":[0,50,100,150,200],"format":".1f","labelFont":"DejaVu Sans Mono","labelFontSize":11,"labelColor":"#333","labelPadding":2,"ticks":true,"tickSize":4,"tickColor":"#333","domain":false,"grid":true,"gridColor":"#e4e4e4","title":"[rpm]","titleFont":"Open Sans","titleFontSize":24,"titleFontWeight":"normal","titleColor":"#111","titleX":-47,"titleY":161,"titleAngle":270,"titleAlign":"center","titleBaseline":"bottom","zindex":1}}
},
"layer":[
{"data":{"values":[{"t":49,"t2":395.4,"v":0,"v2":241.4}]},"mark":{"type":"rect","color":"#f3f0fb"},"encoding":{"x2":{"field":"t2"},"y2":{"field":"v2"}}},
{"data":{"values":[{"t":169.8,"t2":297,"v":0,"v2":241.4}]},"mark":{"type":"rect","color":"#f3e5ef"},"encoding":{"x2":{"field":"t2"},"y2":{"field":"v2"}}},
{"data":{"values":[{"t":0,"v":0,"v2":200}]},"mark":{"type":"rule","color":"#333","strokeWidth":1},"encoding":{"y2":{"field":"v2"}}},
{"data":{"name":"p1e"},"mark":{"type":"line","color":"#3535e0","strokeWidth":1.2}},
{"data":{"name":"p1a"},"mark":{"type":"line","color":"#e5262c","strokeWidth":1.2}},
{"data":{"name":"p1r"},"mark":{"type":"line","color":"#2f9a45","strokeWidth":1.2}},
{"data":{"values":[{"t":59.7,"v":212.6,"label":"Motor shaft loaded"}]},"mark":{"type":"text","align":"left","baseline":"middle","font":"Open Sans","fontSize":35.5,"color":"#3d10c8"},"encoding":{"text":{"field":"label"}}},
{"data":{"values":[{"t":503.1,"v":218.9,"label":"Speed"}]},"mark":{"type":"text","align":"right","baseline":"middle","font":"Open Sans","fontSize":35,"color":"#111"},"encoding":{"text":{"field":"label"}}},
{"data":{"name":"leg"},"mark":{"type":"point","filled":true,"opacity":0},"encoding":{"color":{"field":"s","type":"nominal","scale":{"domain":["Estimate","Actual","Residual power"],"range":["#3300cc","#ff0000","#00b050"]},"legend":{"orient":"none","legendX":-50,"legendY":-45,"direction":"horizontal","title":null,"symbolType":"square","symbolSize":900,"symbolOpacity":1,"symbolStrokeColor":"#000","symbolStrokeWidth":1.5,"labelFont":"Open Sans","labelFontSize":35,"labelColor":"#111","labelLimit":400,"labelOffset":21,"columnPadding":47,"encode":{"symbols":{"update":{"stroke":{"value":"#000"},"strokeWidth":{"value":1.5},"opacity":{"value":1}}}}}}}}
]
},
{
"width":1624,"height":286,
"encoding":{
"x":{"field":"t","type":"quantitative","scale":{"domain":[0,500],"nice":false,"zero":false},"axis":{"values":[0,100,200,300,400,500],"labels":false,"ticks":true,"tickSize":4,"tickColor":"#333","domain":true,"domainColor":"#222","domainWidth":1.2,"grid":true,"gridColor":"#e4e4e4","title":null,"zindex":1}},
"y":{"field":"v","type":"quantitative","scale":{"domain":[0,387.8],"nice":false,"zero":false},"axis":{"values":[0,80,160,240,320],"format":".1f","labelFont":"DejaVu Sans Mono","labelFontSize":11,"labelColor":"#333","labelPadding":2,"ticks":true,"tickSize":4,"tickColor":"#333","domain":false,"grid":true,"gridColor":"#e4e4e4","title":"amplitude","titleFont":"Open Sans","titleFontSize":24,"titleFontWeight":"normal","titleColor":"#111","titleX":-47,"titleY":162,"titleAngle":270,"titleAlign":"center","titleBaseline":"bottom","zindex":1}}
},
"layer":[
{"data":{"values":[{"t":49,"t2":395.4,"v":0,"v2":387.8}]},"mark":{"type":"rect","color":"#f3f0fb"},"encoding":{"x2":{"field":"t2"},"y2":{"field":"v2"}}},
{"data":{"values":[{"t":169.8,"t2":297,"v":0,"v2":387.8}]},"mark":{"type":"rect","color":"#f3e5ef"},"encoding":{"x2":{"field":"t2"},"y2":{"field":"v2"}}},
{"data":{"values":[{"t":0,"v":0,"v2":320}]},"mark":{"type":"rule","color":"#333","strokeWidth":1},"encoding":{"y2":{"field":"v2"}}},
{"data":{"name":"p2e"},"mark":{"type":"line","color":"#3535e0","strokeWidth":1.2}},
{"data":{"name":"p2a"},"mark":{"type":"line","color":"#e5262c","strokeWidth":1.2}},
{"data":{"name":"p2r"},"mark":{"type":"line","color":"#2f9a45","strokeWidth":1.2}},
{"data":{"values":[{"t":169.3,"v":329.5,"label":"External controller attack"}]},"mark":{"type":"text","align":"left","baseline":"middle","font":"Open Sans","fontSize":35.5,"color":"#c00018"},"encoding":{"text":{"field":"label"}}},
{"data":{"values":[{"t":503.7,"v":340.3,"label":"Control command"}]},"mark":{"type":"text","align":"right","baseline":"middle","font":"Open Sans","fontSize":35,"color":"#111"},"encoding":{"text":{"field":"label"}}},
{"data":{"values":[{"t":265.1,"v":104.4,"label":"Residuals affected by attack"}]},"mark":{"type":"text","align":"left","baseline":"middle","font":"Open Sans","fontSize":35.5,"color":"#111"},"encoding":{"text":{"field":"label"}}},
{"data":{"values":[{"t":263.5,"v":111.2,"t2":177.3,"v2":457},{"t":263.5,"v":111.2,"t2":182.6,"v2":21.7}]},"mark":{"type":"rule","color":"#1a1a1a","strokeWidth":1.3},"encoding":{"x2":{"field":"t2"},"y2":{"field":"v2"}}},
{"data":{"values":[{"t":178.7,"v":451.5}]},"mark":{"type":"point","shape":"triangle-up","filled":true,"size":170,"angle":312.4,"color":"#1a1a1a","opacity":1}},
{"data":{"values":[{"t":184.4,"v":23.7}]},"mark":{"type":"point","shape":"triangle-up","filled":true,"size":170,"angle":256,"color":"#1a1a1a","opacity":1}}
]
},
{
"width":1624,"height":297,
"encoding":{
"x":{"field":"t","type":"quantitative","scale":{"domain":[0,500],"nice":false,"zero":false},"axis":{"values":[0,100,200,300,400,500],"labelFont":"Open Sans","labelFontSize":25,"labelColor":"#111","labelFlush":false,"labelOverlap":false,"labelPadding":1,"ticks":true,"tickSize":4,"tickColor":"#333","domain":true,"domainColor":"#222","domainWidth":1.2,"grid":true,"gridColor":"#e4e4e4","title":"time [ms]","titleFont":"Open Sans","titleFontSize":23,"titleFontWeight":"normal","titleColor":"#111","titleX":1636,"titleY":47,"titleAlign":"right","titleBaseline":"middle","zindex":1}},
"y":{"field":"v","type":"quantitative","scale":{"domain":[0,38.63],"nice":false,"zero":false},"axis":{"values":[0,8,16,24,32],"format":".1f","labelFont":"DejaVu Sans Mono","labelFontSize":11,"labelColor":"#333","labelPadding":2,"ticks":true,"tickSize":4,"tickColor":"#333","domain":false,"grid":true,"gridColor":"#e4e4e4","title":"[x10 mA]","titleFont":"Open Sans","titleFontSize":24,"titleFontWeight":"normal","titleColor":"#111","titleX":-47,"titleY":166,"titleAngle":270,"titleAlign":"center","titleBaseline":"bottom","zindex":1}}
},
"layer":[
{"data":{"values":[{"t":49,"t2":395.4,"v":0,"v2":38.63}]},"mark":{"type":"rect","color":"#f3f0fb"},"encoding":{"x2":{"field":"t2"},"y2":{"field":"v2"}}},
{"data":{"values":[{"t":169.8,"t2":297,"v":0,"v2":38.63}]},"mark":{"type":"rect","color":"#f3e5ef"},"encoding":{"x2":{"field":"t2"},"y2":{"field":"v2"}}},
{"data":{"values":[{"t":0,"v":0,"v2":32}]},"mark":{"type":"rule","color":"#333","strokeWidth":1},"encoding":{"y2":{"field":"v2"}}},
{"data":{"name":"p3e"},"mark":{"type":"line","color":"#3535e0","strokeWidth":1.2}},
{"data":{"name":"p3a"},"mark":{"type":"line","color":"#e5262c","strokeWidth":1.2}},
{"data":{"name":"p3r"},"mark":{"type":"line","color":"#2f9a45","strokeWidth":1.2}},
{"data":{"values":[{"t":503.7,"v":34.86,"label":"DC current"}]},"mark":{"type":"text","align":"right","baseline":"middle","font":"Open Sans","fontSize":35,"color":"#111"},"encoding":{"text":{"field":"label"}}},
{"data":{"values":[{"t":263.5,"v":49.95,"t2":175.2,"v2":31.35}]},"mark":{"type":"rule","color":"#1a1a1a","strokeWidth":1.3},"encoding":{"x2":{"field":"t2"},"y2":{"field":"v2"}}},
{"data":{"values":[{"t":176.8,"v":31.7}]},"mark":{"type":"point","shape":"triangle-up","filled":true,"size":170,"angle":243.5,"color":"#1a1a1a","opacity":1}}
]
}
]
}
